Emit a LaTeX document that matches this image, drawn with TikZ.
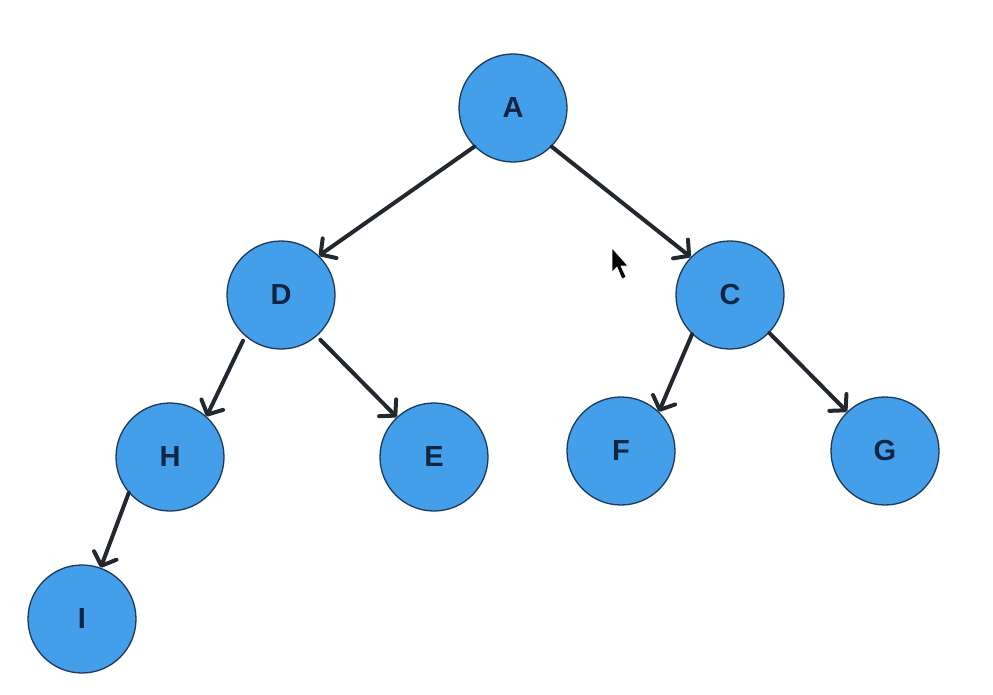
\documentclass[tikz,border=0pt]{standalone}
\usepackage{fontspec}
\setmainfont{Liberation Sans}
\usetikzlibrary{arrows.meta}
\definecolor{nodefill}{HTML}{449FEA}
\definecolor{nodeedge}{HTML}{1E3A58}
\definecolor{labelink}{HTML}{0F2542}
\definecolor{edgeink}{HTML}{23282F}
\tikzset{
  treenode/.style={circle, draw=nodeedge, line width=1.3pt, fill=nodefill,
    minimum size=108pt, inner sep=0pt, text=labelink,
    font=\fontsize{29}{29}\selectfont\bfseries},
  link/.style={draw=edgeink, line width=4pt, line cap=round,
    -{Straight Barb[length=11pt,width=24pt,line cap=round,line join=round]}}
}
\begin{document}
\begin{tikzpicture}[x=1pt,y=-1pt]
  \useasboundingbox[fill=white] (0,0) rectangle (993,695);

  % nodes of the tree
  \node[treenode] (A) at (513,108) {A};
  \node[treenode] (D) at (281,295) {D};
  \node[treenode] (C) at (730,295) {C};
  \node[treenode] (H) at (170,457) {H};
  \node[treenode] (E) at (434,457) {E};
  \node[treenode] (F) at (621,451) {F};
  \node[treenode] (G) at (885,451) {G};
  \node[treenode] (I) at (82,619) {I};

  % parent -> child links
  \draw[link] (A.225) -- (D.46);
  \draw[link] (A.315) -- (C.136);
  \draw[link, shorten <=5pt] (D.229) -- (H.48);
  \draw[link, shorten <=5pt] (D.311) -- (E.133);
  \draw[link] (C.226) -- (F.46);
  \draw[link] (C.316) -- (G.134);
  \draw[link] (H.221) -- (I.70);

  % mouse pointer
  \filldraw[fill=black, draw=white, line width=0.6pt, line join=round]
    (612,248) -- (612,272) -- (617,267) -- (622,279) -- (626,277)
    -- (621,266) -- (628,266) -- cycle;
\end{tikzpicture}
\end{document}
